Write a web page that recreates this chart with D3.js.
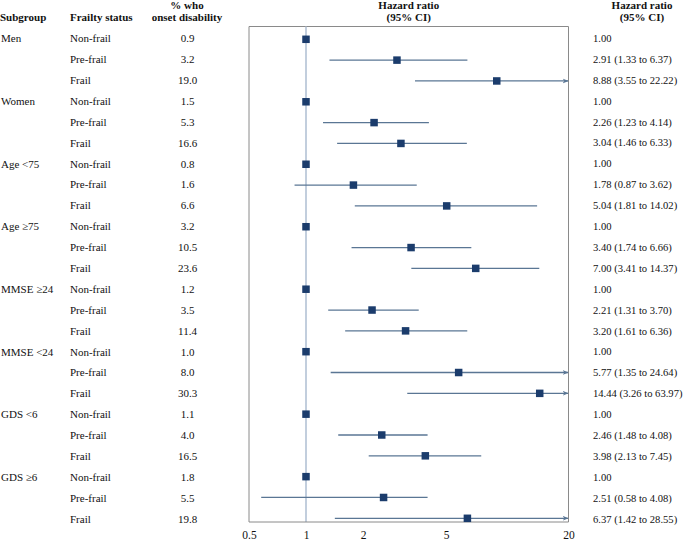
<!DOCTYPE html>
<html>
<head>
<meta charset="utf-8">
<script src="https://cdn.jsdelivr.net/npm/d3@7"></script>
<style>
  html, body { margin: 0; padding: 0; background: #fff; }
  svg { display: block; font-family: "Liberation Serif", "Times New Roman", serif; }
</style>
</head>
<body>
<svg id="chart" width="687" height="541"></svg>
<script>
// ---- data ----
const subgroups = ["Men", "Women", "Age <75", "Age \u226575", "MMSE \u226524", "MMSE <24", "GDS <6", "GDS \u22656"];
const statuses = ["Non-frail", "Pre-frail", "Frail"];
const pctOnset = [0.9, 3.2, 19.0, 1.5, 5.3, 16.6, 0.8, 1.6, 6.6, 3.2, 10.5, 23.6,
                  1.2, 3.5, 11.4, 1.0, 8.0, 30.3, 1.1, 4.0, 16.5, 1.8, 5.5, 19.8];
const hr     = [1.00, 2.91, 8.88, 1.00, 2.26, 3.04, 1.00, 1.78, 5.04, 1.00, 3.40, 7.00,
                1.00, 2.21, 3.20, 1.00, 5.77, 14.44, 1.00, 2.46, 3.98, 1.00, 2.51, 6.37];
const ciLow  = [null, 1.33, 3.55, null, 1.23, 1.46, null, 0.87, 1.81, null, 1.74, 3.41,
                null, 1.31, 1.61, null, 1.35, 3.26, null, 1.48, 2.13, null, 0.58, 1.42];
const ciHigh = [null, 6.37, 22.22, null, 4.14, 6.33, null, 3.62, 14.02, null, 6.66, 14.37,
                null, 3.70, 6.36, null, 24.64, 63.97, null, 4.08, 7.45, null, 4.08, 28.55];
const xTicks = [0.5, 1, 2, 5, 20];

// ---- rows ----
const rows = hr.map((v, i) => ({
  i,
  subgroup: i % 3 === 0 ? subgroups[Math.floor(i / 3)] : "",
  status: statuses[i % 3],
  pct: pctOnset[i],
  hr: v,
  lo: ciLow[i],
  hi: ciHigh[i]
}));

const svg = d3.select("#chart");
const plotL = 249, plotR = 568.5, plotT = 26.5, plotB = 522;

// log scale, piecewise through the printed tick positions of the original axis
const x = d3.scaleLog().domain(xTicks).range([plotL, 306, 363, 446, plotR]).clamp(true);
const y = d3.scalePoint().domain(rows.map(d => d.i)).range([39.3, 518.3]);

const markerColor = "#1b3c6c";
const ciColor = "#5a7694";
const refColor = "#b3c2d5";
const boxColor = "#8a8a8a";

// ---- headers ----
const hdr = svg.append("g").attr("font-weight", "bold").attr("font-size", 11).attr("fill", "#111");
hdr.append("text").attr("x", 0).attr("y", 17).attr("dy", "0.35em").text("Subgroup");
hdr.append("text").attr("x", 70).attr("y", 17).attr("dy", "0.35em").text("Frailty status");
hdr.append("text").attr("x", 187).attr("y", 5).attr("dy", "0.35em").attr("text-anchor", "middle").text("% who");
hdr.append("text").attr("x", 187).attr("y", 17).attr("dy", "0.35em").attr("text-anchor", "middle").text("onset disability");
hdr.append("text").attr("x", (plotL + plotR) / 2).attr("y", 5).attr("dy", "0.35em").attr("text-anchor", "middle").text("Hazard ratio");
hdr.append("text").attr("x", (plotL + plotR) / 2).attr("y", 17).attr("dy", "0.35em").attr("text-anchor", "middle").text("(95% CI)");
hdr.append("text").attr("x", 642).attr("y", 5).attr("dy", "0.35em").attr("text-anchor", "middle").text("Hazard ratio");
hdr.append("text").attr("x", 642).attr("y", 17).attr("dy", "0.35em").attr("text-anchor", "middle").text("(95% CI)");

// ---- table text ----
const tbl = svg.append("g").attr("font-size", 11).attr("fill", "#111");
const rowG = tbl.selectAll("g.row").data(rows).join("g").attr("class", "row")
  .attr("transform", d => `translate(0,${y(d.i) + (d.i - 11.5) * 0.07 - 0.2})`);
rowG.append("text").attr("x", 1).attr("dy", "0.35em").text(d => d.subgroup);
rowG.append("text").attr("x", 70).attr("dy", "0.35em").text(d => d.status);
rowG.append("text").attr("x", 187.5).attr("dy", "0.35em").attr("text-anchor", "middle").text(d => d.pct.toFixed(1));
rowG.append("text").attr("x", 593).attr("dy", "0.35em").attr("font-size", 10.6)
  .text(d => d.lo == null ? d.hr.toFixed(2) : `${d.hr.toFixed(2)} (${d.lo.toFixed(2)} to ${d.hi.toFixed(2)})`);

// ---- plot frame ----
const frame = svg.append("g").attr("fill", "none").attr("stroke", boxColor).attr("stroke-width", 1);
frame.append("line").attr("x1", plotL).attr("x2", plotR).attr("y1", plotT).attr("y2", plotT);
frame.append("line").attr("x1", plotL).attr("x2", plotL).attr("y1", plotT).attr("y2", plotB);
frame.append("line").attr("x1", plotR).attr("x2", plotR).attr("y1", plotT).attr("y2", plotB);

// reference line at HR = 1
svg.append("line")
  .attr("x1", x(1)).attr("x2", x(1)).attr("y1", plotT).attr("y2", plotB)
  .attr("stroke", refColor).attr("stroke-width", 1.6);

// x axis
const axis = d3.axisBottom(x).tickValues(xTicks).tickFormat(d3.format("")).tickSize(0).tickPadding(9);
const axG = svg.append("g").attr("transform", `translate(0,${plotB})`).call(axis);
axG.select(".domain").attr("stroke", boxColor).attr("d", `M${plotL},0H${plotR}`);
axG.selectAll("text").attr("font-family", "Liberation Serif, Times New Roman, serif")
  .attr("font-size", 11.5).attr("fill", "#111");

// arrow marker
const defs = svg.append("defs");
defs.append("marker").attr("id", "arrow").attr("viewBox", "0 0 10 10")
  .attr("refX", 9).attr("refY", 5).attr("markerWidth", 6).attr("markerHeight", 6)
  .attr("markerUnits", "userSpaceOnUse").attr("orient", "auto")
  .append("path").attr("d", "M0,1 L10,5 L0,9 L3,5 Z").attr("fill", ciColor);

const lastTick = xTicks[xTicks.length - 1];

// CI lines
const ciRows = rows.filter(d => d.lo != null);
svg.append("g").selectAll("line").data(ciRows).join("line")
  .attr("x1", d => x(d.lo))
  .attr("x2", d => d.hi > lastTick ? x(lastTick) - 0.5 : x(d.hi))
  .attr("y1", d => y(d.i)).attr("y2", d => y(d.i))
  .attr("stroke", ciColor).attr("stroke-width", 1.3)
  .attr("marker-end", d => d.hi > lastTick ? "url(#arrow)" : null);

// point estimates
const ms = 7.5;
svg.append("g").selectAll("rect").data(rows).join("rect")
  .attr("x", d => x(d.hr) - ms / 2).attr("y", d => y(d.i) - ms / 2)
  .attr("width", ms).attr("height", ms)
  .attr("fill", markerColor);
</script>
</body>
</html>
